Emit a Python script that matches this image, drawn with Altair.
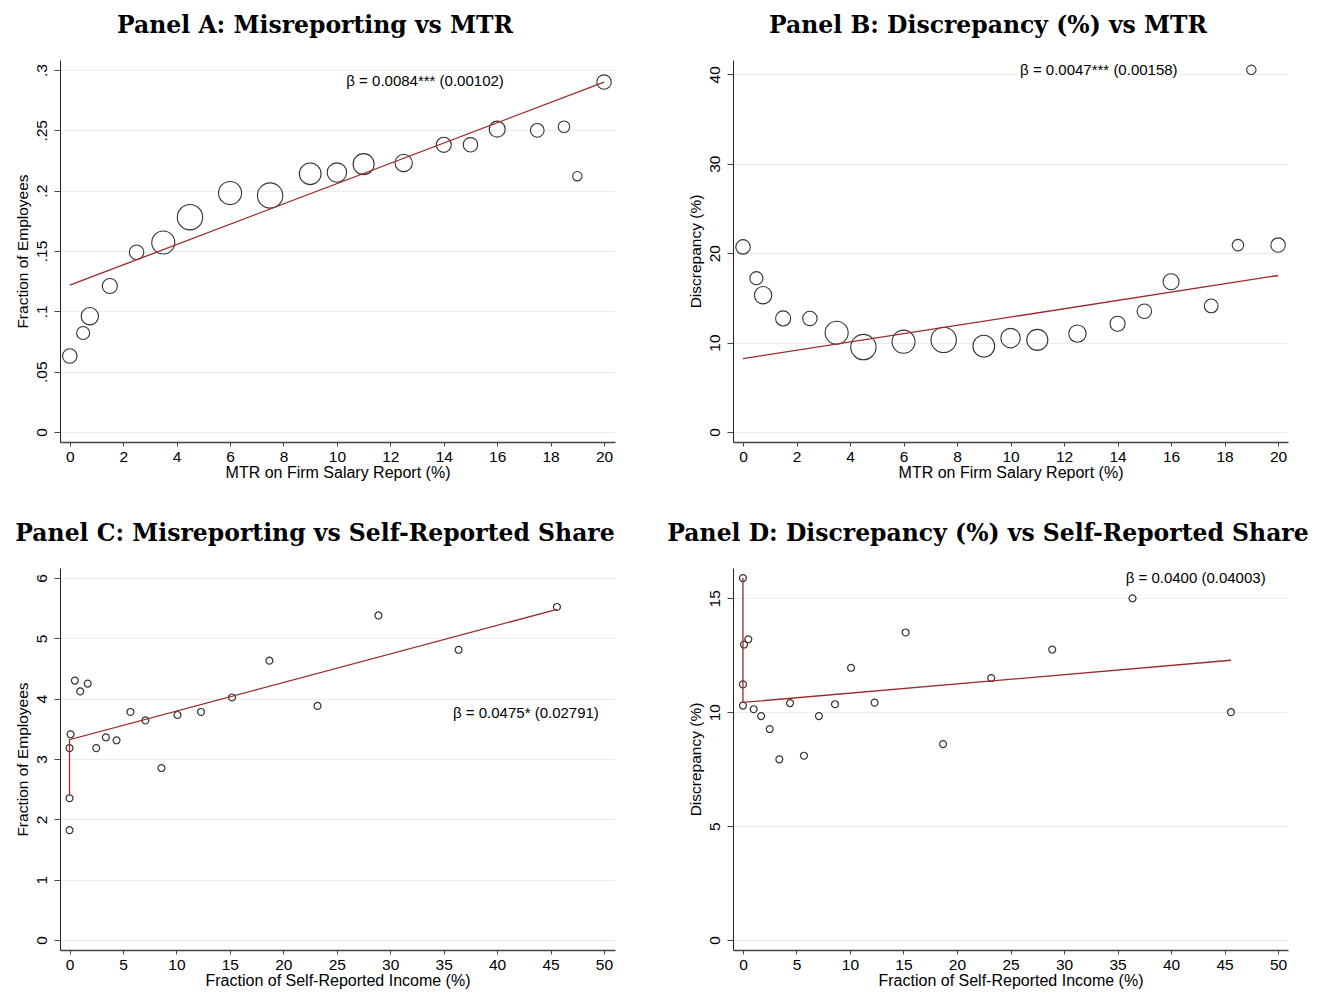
import altair as alt
import pandas as pd

# ---------------- data ----------------
# Panels A & B: binned marginal tax rate on firm salary report (%)
mtr = [0, 0.5, 0.75, 1.5, 2.5, 3.5, 4.5, 6, 7.5, 9, 10, 11, 12.5, 14, 15, 16, 17.5, 18.5, 19, 20]
misreport_frac = [0.063, 0.082, 0.096, 0.121, 0.149, 0.157, 0.178, 0.198, 0.196, 0.214,
                  0.215, 0.222, 0.223, 0.238, 0.238, 0.251, 0.250, 0.253, 0.212, 0.290]
discrepancy_mtr = [20.7, 17.2, 15.3, 12.7, 12.7, 11.1, 9.5, 10.1, 10.3, 9.6,
                   10.5, 10.3, 11.0, 12.1, 13.5, 16.8, 14.1, 20.9, 40.5, 20.9]
bin_weight = [266, 216, 384, 289, 266, 676, 818, 676, 818, 600,
              484, 562, 384, 289, 266, 324, 240, 169, 112, 266]

fit_a_x = [0, 20]
fit_a_y = [0.1217, 0.290]
fit_b_x = [0, 20]
fit_b_y = [8.2, 17.5]

# Panels C & D: fraction of self-reported income (%)
self_share = [0, 0, 0, 0.1, 0.5, 1.0, 1.7, 2.5, 3.4, 4.4, 5.7, 7.1, 8.6, 10.1,
              12.3, 15.2, 18.7, 23.2, 28.9, 36.4, 45.6]
misreport_share = [1.82, 2.35, 3.18, 3.41, 4.30, 4.12, 4.25, 3.18, 3.36, 3.31, 3.78,
                   3.64, 2.85, 3.73, 3.78, 4.02, 4.63, 3.88, 5.38, 4.81, 5.52]
discrepancy_share = [15.89, 11.22, 10.29, 12.97, 13.2, 10.13, 9.83, 9.26, 7.93, 10.4, 8.09,
                     9.83, 10.35, 11.95, 10.42, 13.5, 8.6, 11.5, 12.75, 15.0, 10.0]

fit_c_x = [0, 0, 45.6]
fit_c_y = [2.39, 3.32, 5.48]
fit_d_x = [0, 0, 45.6]
fit_d_y = [15.89, 10.43, 12.28]

titles = ["Panel A: Misreporting vs MTR",
          "Panel B: Discrepancy (%) vs MTR",
          "Panel C: Misreporting vs Self-Reported Share",
          "Panel D: Discrepancy (%) vs Self-Reported Share"]
notes = ["\u03b2 = 0.0084*** (0.00102)", "\u03b2 = 0.0047*** (0.00158)",
         "\u03b2 = 0.0475* (0.02791)", "\u03b2 = 0.0400 (0.04003)"]
note_pos = [(13.3, 0.291), (13.3, 40.5), (42.7, 3.77), (42.3, 15.87)]

x_ticks_mtr = [0, 2, 4, 6, 8, 10, 12, 14, 16, 18, 20]
x_ticks_share = [0, 5, 10, 15, 20, 25, 30, 35, 40, 45, 50]

# ---------------- styling ----------------
SANS = "Liberation Sans"
LINE_COLOR = "#9b2a2a"
PT_COLOR = "#333333"
GRID = "#e6eef0"
W, H = 555, 382


def make_panel(x, y, fx, fy, weight, title, note, npos, xdom, xvals, ydom, yvals,
               xtitle, ytitle, ylabel_expr=None, knockout=False):
    pts = pd.DataFrame({"x": x, "y": y})
    if weight is not None:
        pts["w"] = weight
    fit = pd.DataFrame({"x": fx, "y": fy, "o": list(range(len(fx)))})
    nt = pd.DataFrame({"x": [npos[0]], "y": [npos[1]], "t": [note]})

    yaxis_kw = dict(values=yvals, grid=True, gridColor=GRID, gridWidth=1,
                    tickSize=6, tickColor="#444", domainColor="#222",
                    labelAngle=270, labelAlign="center", labelBaseline="alphabetic",
                    labelPadding=8, labelFont=SANS, labelFontSize=15.5, labelColor="black",
                    labelFlush=False, labelOverlap=False,
                    title=ytitle, titleFont=SANS, titleFontSize=15.5,
                    titleFontWeight="normal", titleColor="black", titlePadding=4)
    if ylabel_expr:
        yaxis_kw["labelExpr"] = ylabel_expr
    else:
        yaxis_kw["format"] = "d"
    xaxis = alt.Axis(values=xvals, grid=False, tickSize=4, tickColor="#444",
                     domainColor="#444", domainWidth=1.3, format="d",
                     labelPadding=3, labelFont=SANS, labelFontSize=15.5, labelColor="black",
                     labelFlush=False, labelOverlap=False,
                     title=xtitle, titleFont=SANS, titleFontSize=16,
                     titleFontWeight="normal", titleColor="black", titlePadding=0)
    xs = alt.Scale(domain=xdom, nice=False, zero=False)
    ys = alt.Scale(domain=ydom, nice=False, zero=False)

    base_x = alt.X("x:Q", scale=xs, axis=xaxis)
    base_y = alt.Y("y:Q", scale=ys, axis=alt.Axis(**yaxis_kw))

    if weight is not None:
        points = alt.Chart(pts).mark_point(shape="circle", filled=False, color=PT_COLOR,
                                           strokeWidth=1.1, opacity=1).encode(
            x=base_x, y=base_y,
            size=alt.Size("w:Q", scale=alt.Scale(domain=[0, 818], range=[0, 642]), legend=None))
    else:
        points = alt.Chart(pts).mark_point(shape="circle", filled=False, color=PT_COLOR,
                                           size=48, strokeWidth=1.2, opacity=1).encode(
            x=base_x, y=base_y)

    line = alt.Chart(fit).mark_line(color=LINE_COLOR, strokeWidth=1.3).encode(
        x="x:Q", y="y:Q", order="o:Q")

    layers = [points, line]
    if knockout:
        layers.append(alt.Chart(nt).mark_text(font=SANS, fontSize=15, color="white",
                                              stroke="white", strokeWidth=9).encode(
            x="x:Q", y="y:Q", text="t:N"))
    layers.append(alt.Chart(nt).mark_text(font=SANS, fontSize=15, color="black").encode(
        x="x:Q", y="y:Q", text="t:N"))

    return alt.layer(*layers).properties(
        width=W, height=H,
        title=alt.TitleParams(title, font="DejaVu Serif", fontSize=23.5,
                              fontWeight="bold", color="black", anchor="middle",
                              frame="bounds", offset=22.5))


frac_expr = "datum.value == 0 ? '0' : substring(format(datum.value, '.2~f'), 1)"

pa = make_panel(mtr, misreport_frac, fit_a_x, fit_a_y, bin_weight, titles[0], notes[0], note_pos[0],
                [-0.366, 20.41], x_ticks_mtr, [-0.0083, 0.3083],
                [0, 0.05, 0.1, 0.15, 0.2, 0.25, 0.3],
                "MTR on Firm Salary Report (%)", "Fraction of Employees", frac_expr)
pb = make_panel(mtr, discrepancy_mtr, fit_b_x, fit_b_y, bin_weight, titles[1], notes[1], note_pos[1],
                [-0.374, 20.37], x_ticks_mtr, [-1.12, 41.6], [0, 10, 20, 30, 40],
                "MTR on Firm Salary Report (%)", "Discrepancy (%)", knockout=True)
pc = make_panel(self_share, misreport_share, fit_c_x, fit_c_y, None, titles[2], notes[2], note_pos[2],
                [-0.89, 51.03], x_ticks_share, [-0.166, 6.166], [0, 1, 2, 3, 4, 5, 6],
                "Fraction of Self-Reported Income (%)", "Fraction of Employees")
pd_ = make_panel(self_share, discrepancy_share, fit_d_x, fit_d_y, None, titles[3], notes[3], note_pos[3],
                 [-0.93, 50.93], x_ticks_share, [-0.44, 16.33], [0, 5, 10, 15],
                 "Fraction of Self-Reported Income (%)", "Discrepancy (%)")

chart = alt.ConcatChart(
    concat=[pa, pb, pc, pd_], columns=2,
    spacing=alt.RowColnumber(row=126, column=118), bounds="flush",
    padding={"left": 7, "top": 6, "right": 0, "bottom": 0},
    background="white",
).configure_view(strokeWidth=0, stroke="transparent")

chart.save("out.html", embed_options={"renderer": "svg", "actions": False})
